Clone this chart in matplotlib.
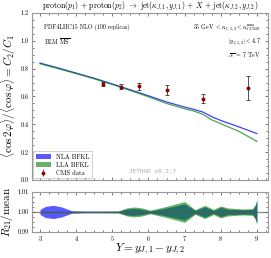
import numpy as np
import matplotlib
matplotlib.use("Agg")
import matplotlib.pyplot as plt
from matplotlib.patches import Patch
from matplotlib.ticker import MultipleLocator

plt.rcParams["font.family"] = "serif"
plt.rcParams["font.serif"] = ["cmr10"]
plt.rcParams["mathtext.fontset"] = "cm"
plt.rcParams["axes.formatter.use_mathtext"] = True

# central values of C2/C1
Y = [3.0, 3.5, 4.0, 4.5, 5.0, 5.5, 6.0, 6.5, 7.0, 7.25, 7.5, 7.75, 8.0, 8.5, 9.0]
nla = [0.840, 0.805, 0.768, 0.731, 0.690, 0.648, 0.605, 0.561, 0.524, 0.508,
       0.489, 0.455, 0.428, 0.382, 0.334]
lla = [0.835, 0.800, 0.764, 0.727, 0.686, 0.643, 0.598, 0.550, 0.512, 0.496,
       0.473, 0.432, 0.405, 0.350, 0.278]

# CMS data
cms_Y = [4.75, 5.25, 5.75, 6.5, 7.5, 8.75]
cms_val = [0.688, 0.671, 0.674, 0.647, 0.585, 0.660]
cms_err = [0.014, 0.018, 0.024, 0.038, 0.033, 0.086]

# ratio panel: half widths of the bands around 1
Yr = [3.0, 3.15, 3.37, 3.6, 3.88, 4.25, 4.75, 5.17, 5.4, 5.6, 5.8, 6.05,
      6.5, 7.0, 7.29, 7.56, 7.8, 8.0, 8.2, 8.6, 8.88, 8.95, 9.0]
nla_hw = [0.0013, 0.0028, 0.0033, 0.0025, 0.0006, 0.0004, 0.0004, 0.0004,
          0.0015, 0.0018, 0.0014, 0.0005, 0.0020, 0.0040, 0.0007, 0.0026,
          0.0007, 0.0023, 0.0013, 0.0011, 0.0012, 0.0030, 0.0056]
lla_hw = [0.0004, 0.0004, 0.0004, 0.0004, 0.0004, 0.0004, 0.0004, 0.0005,
          0.0020, 0.0025, 0.0021, 0.0009, 0.0028, 0.0052, 0.0012, 0.0033,
          0.0013, 0.0030, 0.0020, 0.0015, 0.0017, 0.0035, 0.0062]

blue = (0.0, 0.0, 1.0)
green = (0.0, 0.5, 0.0)

fig = plt.figure(figsize=(2.71, 2.58), dpi=100)
ax = fig.add_axes([0.117, 0.302, 0.871, 0.648])
axr = fig.add_axes([0.117, 0.101, 0.871, 0.155])

for a in (ax, axr):
    a.set_xlim(2.77, 9.3)
    a.xaxis.set_major_locator(MultipleLocator(1))
    a.xaxis.set_minor_locator(MultipleLocator(0.25))
    a.tick_params(which="both", direction="in", top=True, right=True,
                  labelsize=4.5, color="#444444", width=0.5, pad=2)
    a.tick_params(which="major", length=2.5)
    a.tick_params(which="minor", length=1.3)
    for s in a.spines.values():
        s.set_color("#999999")
        s.set_linewidth(0.8)
axr.tick_params(axis="x", pad=1.5)

# top panel
ax.plot(Y, nla, color=blue, alpha=0.75, lw=0.9)
ax.plot(Y, lla, color=green, alpha=0.7, lw=0.9)
ax.errorbar(cms_Y, cms_val, yerr=cms_err, fmt="o", ms=1.8, color="darkred",
            ecolor="#333333", elinewidth=0.6, capsize=1.5, capthick=0.6)
ax.set_ylim(0.0, 1.2)
ax.yaxis.set_major_locator(MultipleLocator(0.2))
ax.yaxis.set_minor_locator(MultipleLocator(0.05))
ax.yaxis.set_major_formatter(matplotlib.ticker.FormatStrFormatter("%.1f"))
ax.set_xticklabels([])
ax.set_ylabel(r"$\langle\cos 2\varphi\rangle/\langle\cos\varphi\rangle = C_2/C_1$",
              fontsize=8, labelpad=2)
ax.set_title(r"proton($p_1$) + proton($p_2$) $\rightarrow$ jet($\kappa_{J,1}, y_{J,1}$) + $X$ + jet($\kappa_{J,2}, y_{J,2}$)",
             fontsize=5.6, pad=2.5)

ax.text(0.05, 0.91, "PDF4LHC15 NLO (100 replicas)", transform=ax.transAxes,
        fontsize=4.3, va="center")
ax.text(0.05, 0.83, r"BLM $\overline{\rm MS}$", transform=ax.transAxes,
        fontsize=4.3, va="center")
ax.text(0.97, 0.91, r"35 GeV $<\kappa_{J,1,2}<\kappa_{J,{\rm CMS}}^{\rm max}$",
        transform=ax.transAxes, fontsize=4.3, va="center", ha="right")
ax.text(0.97, 0.83, r"$|y_{J,1,2}| < 4.7$", transform=ax.transAxes,
        fontsize=4.3, va="center", ha="right")
ax.text(0.97, 0.745, r"$\sqrt{s}$ = 7 TeV", transform=ax.transAxes,
        fontsize=4.3, va="center", ha="right")
ax.text(0.51, 0.05, "JETHAD v0.2.7", transform=ax.transAxes, fontsize=4.3,
        va="center", ha="center", color="#aaaaaa", family="DejaVu Sans Mono")

handles = [Patch(facecolor=blue, alpha=0.65, edgecolor="none"),
           Patch(facecolor=green, alpha=0.6, edgecolor="none"),
           ax.errorbar([], [], yerr=[], fmt="o", ms=1.8, color="darkred",
                       ecolor="#333333", elinewidth=0.6, capsize=1.5)]
leg = ax.legend(handles, ["NLA BFKL", "LLA BFKL", "CMS data"], loc="lower left",
                fontsize=4.6, frameon=True, fancybox=False, borderaxespad=0.25,
                handlelength=2.3, handleheight=0.9, labelspacing=0.35,
                borderpad=0.4)
leg.get_frame().set_edgecolor("#bbbbbb")
leg.get_frame().set_linewidth(0.6)

# ratio panel
Yr_a = np.array(Yr)
axr.fill_between(Yr_a, 1 - np.array(nla_hw), 1 + np.array(nla_hw),
                 color=blue, alpha=0.65, lw=0)
axr.fill_between(Yr_a, 1 - np.array(lla_hw), 1 + np.array(lla_hw),
                 color=green, alpha=0.6, lw=0)
axr.axhline(1.0, color="#555555", lw=0.9, alpha=0.7)
axr.set_ylim(0.99, 1.01)
axr.yaxis.set_major_locator(MultipleLocator(0.01))
axr.yaxis.set_minor_locator(MultipleLocator(0.0025))
axr.yaxis.set_major_formatter(matplotlib.ticker.FormatStrFormatter("%.2f"))
axr.set_ylabel(r"$R_{21}/\mathrm{mean}$", fontsize=8, labelpad=2)
axr.set_xlabel(r"$Y = y_{J,1} - y_{J,2}$", fontsize=8.2)
axr.xaxis.set_label_coords(0.5, -0.25)

fig.savefig("out.png", dpi=100)
